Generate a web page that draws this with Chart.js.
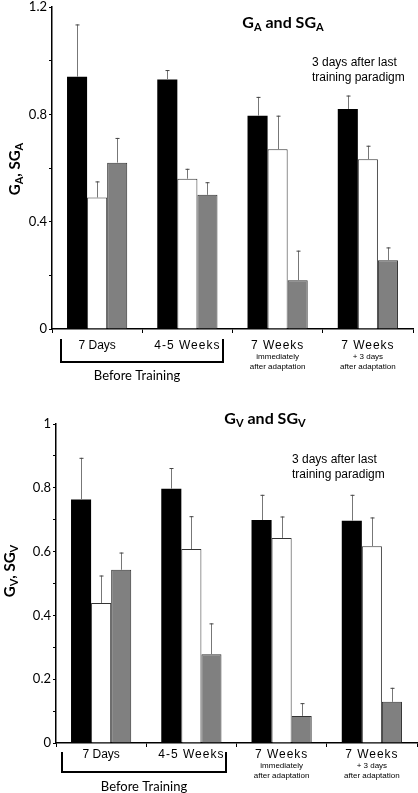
<!DOCTYPE html>
<html>
<head>
<meta charset="utf-8">
<script src="https://cdn.jsdelivr.net/npm/chart.js@4/dist/chart.umd.min.js"></script>
<style>
    html, body { margin: 0; padding: 0; background: #fff; }
    #wrap { position: relative; width: 418px; height: 793px; }
    canvas { position: absolute; left: 0; }
    #chartA { top: 0; }
    #chartV { top: 380px; }
</style>
</head>
<body>
<div id="wrap">
    <canvas id="chartA" width="418" height="392"></canvas>
    <canvas id="chartV" width="418" height="413"></canvas>
</div>
<script>
    var categories = ['7 Days', '4-5 Weeks', '7 Weeks', '7 Weeks'];
    var subLabels = [[], [], ['immediately', 'after adaptation'], ['+ 3 days', 'after adaptation']];
    var groupLabel = 'Before Training';
    var noteLines = ['3 days after last', 'training paradigm'];

    // G_A / SG_A (top panel)
    var gaBlack = [0.94, 0.93, 0.795, 0.82];
    var gaBlackErr = [0.195, 0.035, 0.07, 0.05];
    var gaWhite = [0.49, 0.56, 0.67, 0.633];
    var gaWhiteErr = [0.06, 0.037, 0.125, 0.05];
    var gaGray = [0.62, 0.5, 0.182, 0.256];
    var gaGrayErr = [0.092, 0.047, 0.11, 0.048];
    var gaTickLabels = ['0', '0.4', '0.8', '1.2'];

    // G_V / SG_V (bottom panel)
    var gvBlack = [0.763, 0.797, 0.699, 0.697];
    var gvBlackErr = [0.131, 0.065, 0.079, 0.081];
    var gvWhite = [0.439, 0.608, 0.643, 0.617];
    var gvWhiteErr = [0.086, 0.103, 0.067, 0.09];
    var gvGray = [0.543, 0.278, 0.085, 0.129];
    var gvGrayErr = [0.054, 0.097, 0.04, 0.044];
    var gvTickLabels = ['0', '0.2', '0.4', '0.6', '0.8', '1'];

    // error bars (upper only, small cap)
    var errorBarPlugin = {
        id: 'errorBars',
        afterDatasetsDraw: function (chart) {
            var ctx = chart.ctx;
            var yScale = chart.scales.y;
            ctx.save();
            chart.data.datasets.forEach(function (ds, i) {
                var meta = chart.getDatasetMeta(i);
                meta.data.forEach(function (bar, j) {
                    var top = yScale.getPixelForValue(ds.data[j] + ds.errors[j]);
                    ctx.strokeStyle = '#777';
                    ctx.lineWidth = 1;
                    ctx.beginPath();
                    ctx.moveTo(Math.round(bar.x) + 0.5, bar.y);
                    ctx.lineTo(Math.round(bar.x) + 0.5, top);
                    ctx.stroke();
                    ctx.strokeStyle = '#444';
                    ctx.beginPath();
                    ctx.moveTo(Math.round(bar.x) - 1.5, top + 0.5);
                    ctx.lineTo(Math.round(bar.x) + 2.5, top + 0.5);
                    ctx.stroke();
                });
            });
            ctx.restore();
        }
    };

    function drawSubText(ctx, parts, x, y, big, small, align) {
        // parts: [text, sub, text, sub...]
        var total = 0;
        parts.forEach(function (p, k) {
            ctx.font = (k % 2 ? small : big);
            total += ctx.measureText(p).width;
        });
        var cx = align === 'center' ? x - total / 2 : x;
        parts.forEach(function (p, k) {
            ctx.font = (k % 2 ? small : big);
            ctx.fillText(p, cx, k % 2 ? y + 3 : y);
            cx += ctx.measureText(p).width;
        });
    }

    // titles, notes, category labels and the bracket
    var decorPlugin = {
        id: 'decor',
        afterDraw: function (chart, args, opts) {
            var ctx = chart.ctx;
            var xScale = chart.scales.x;
            ctx.save();
            ctx.fillStyle = '#000';
            ctx.textBaseline = 'alphabetic';
            ctx.textAlign = 'left';
            drawSubText(ctx, opts.title, opts.titleX, opts.titleY, 'bold 16px Lato', 'bold 11px Lato', 'center');

            ctx.save();
            ctx.translate(opts.yTitleX, opts.yTitleY);
            ctx.rotate(-Math.PI / 2);
            drawSubText(ctx, opts.yTitle, 0, 5, 'bold 15px Lato', 'bold 11px Lato', 'center');
            ctx.restore();

            ctx.textBaseline = 'middle';
            ctx.font = '12px "Liberation Sans"';
            noteLines.forEach(function (line, k) {
                ctx.fillText(line, opts.noteX, opts.noteY + k * 14.5);
            });

            ctx.textAlign = 'center';
            categories.forEach(function (lab, i) {
                var cx = xScale.getPixelForValue(i);
                ctx.font = '12px "Liberation Sans"';
                ctx.letterSpacing = lab.indexOf('Weeks') >= 0 ? '1px' : '0px';
                ctx.fillText(lab, cx, opts.labelY);
                ctx.letterSpacing = '0px';
                ctx.font = '8px "Liberation Sans"';
                subLabels[i].forEach(function (s, k) {
                    ctx.fillText(s, cx, opts.labelY + 11 + k * 10);
                });
            });

            ctx.strokeStyle = '#000';
            ctx.lineWidth = 2;
            ctx.beginPath();
            ctx.moveTo(opts.bracket[0], opts.bracket[2]);
            ctx.lineTo(opts.bracket[0], opts.bracket[3]);
            ctx.lineTo(opts.bracket[1], opts.bracket[3]);
            ctx.lineTo(opts.bracket[1], opts.bracket[2]);
            ctx.stroke();

            ctx.font = '13px Lato';
            ctx.fillText(groupLabel, opts.groupX, opts.groupY);
            ctx.restore();
        }
    };

    function makeDatasets(black, blackErr, white, whiteErr, gray, grayErr) {
        return [
            { label: 'Group 1', data: black, errors: blackErr, backgroundColor: '#000', borderWidth: 0 },
            { label: 'Group 2', data: white, errors: whiteErr, backgroundColor: '#fff', borderColor: '#333', borderWidth: 1 },
            { label: 'Group 3', data: gray, errors: grayErr, backgroundColor: '#808080', borderColor: '#333', borderWidth: 1 }
        ];
    }

    function makeChart(canvasId, datasets, yMax, yStep, tickLabels, area, decor) {
        var canvas = document.getElementById(canvasId);
        return new Chart(canvas.getContext('2d'), {
            type: 'bar',
            data: { labels: categories, datasets: datasets },
            plugins: [errorBarPlugin, decorPlugin],
            options: {
                responsive: false,
                animation: false,
                layout: { padding: { top: area.top, right: canvas.width - area.right, left: 0, bottom: 0 } },
                datasets: { bar: { categoryPercentage: 0.667, barPercentage: 1 } },
                plugins: {
                    legend: { display: false },
                    title: { display: false },
                    tooltip: { enabled: false },
                    decor: decor
                },
                scales: {
                    x: {
                        afterFit: function (scale) {
                            scale.height = canvas.height - area.bottom;
                            scale.paddingLeft = 0;
                            scale.paddingRight = 0;
                        },
                        ticks: { display: false },
                        grid: { display: true, drawOnChartArea: false, drawTicks: true, tickLength: 4, color: '#000', offset: true },
                        border: { display: true, color: '#000', width: 1.5 }
                    },
                    y: {
                        min: 0,
                        max: yMax,
                        afterFit: function (scale) {
                            scale.width = area.left;
                            scale.paddingTop = 0;
                            scale.paddingBottom = 0;
                        },
                        ticks: {
                            stepSize: yStep,
                            autoSkip: false,
                            padding: 2,
                            color: '#000',
                            font: { family: 'Lato', size: 13 },
                            callback: function (v) {
                                for (var k = 0; k < tickLabels.length; k++) {
                                    if (Math.abs(parseFloat(tickLabels[k]) - v) < 1e-6) return tickLabels[k];
                                }
                                return '';
                            }
                        },
                        grid: { display: true, drawOnChartArea: false, drawTicks: true, tickLength: 3, color: '#000' },
                        border: { display: true, color: '#000', width: 1.5 }
                    }
                }
            }
        });
    }

    makeChart('chartA', makeDatasets(gaBlack, gaBlackErr, gaWhite, gaWhiteErr, gaGray, gaGrayErr),
        1.2, 0.2, gaTickLabels,
        { left: 52, right: 413, top: 7, bottom: 329 },
        {
            title: ['G', 'A', ' and SG', 'A'], titleX: 283, titleY: 28,
            yTitle: ['G', 'A', ', SG', 'A'], yTitleX: 15, yTitleY: 169,
            noteX: 312, noteY: 63,
            labelY: 346,
            bracket: [61, 223, 339, 362],
            groupX: 137, groupY: 376
        });

    makeChart('chartV', makeDatasets(gvBlack, gvBlackErr, gvWhite, gvWhiteErr, gvGray, gvGrayErr),
        1, 0.1, gvTickLabels,
        { left: 56, right: 417, top: 44, bottom: 363 },
        {
            title: ['G', 'V', ' and SG', 'V'], titleX: 265, titleY: 424 - 380,
            yTitle: ['G', 'V', ', SG', 'V'], yTitleX: 10, yTitleY: 191,
            noteX: 292, noteY: 80,
            labelY: 375,
            bracket: [62, 226, 372, 392],
            groupX: 144, groupY: 407
        });
</script>
</body>
</html>
